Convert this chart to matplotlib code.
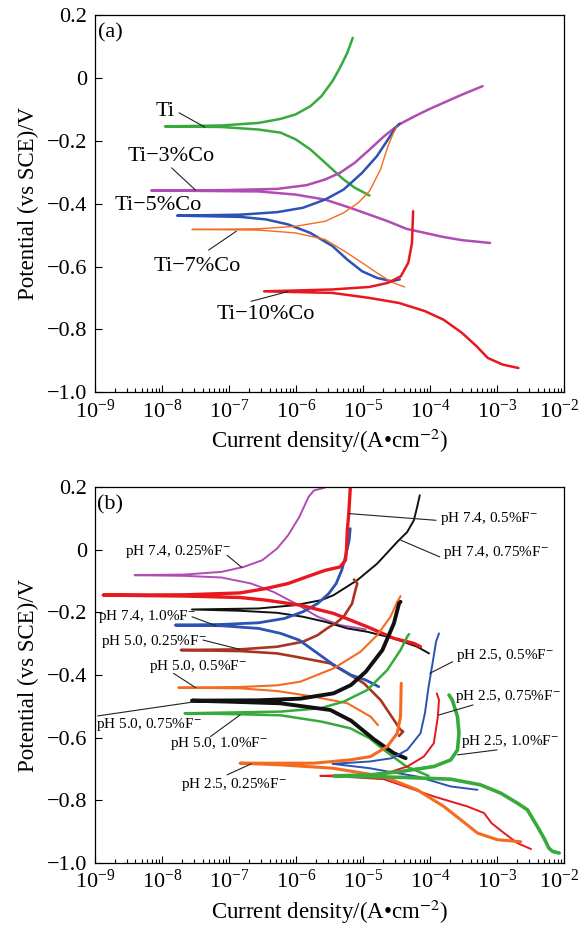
import matplotlib
matplotlib.use('Agg')
import matplotlib.pyplot as plt
import numpy as np
from matplotlib.ticker import LogLocator, FixedLocator, FixedFormatter, NullFormatter, NullLocator
from matplotlib.transforms import ScaledTranslation

plt.rcParams['font.family'] = ['Liberation Serif', 'DejaVu Serif']
plt.rcParams['mathtext.fontset'] = 'stix'

# ---- (a) alloys: log10(current density), potential (V vs SCE); cathodic end -> Ecorr -> anodic end
ti_logi = [-4.907, -5.128, -5.293, -5.459, -5.624, -5.79, -6.01, -6.231, -6.562, -7.114, -7.958,
           -7.114, -6.562, -6.231, -6.01, -5.79, -5.624, -5.459, -5.349, -5.238, -5.156]
ti_E = [-0.374, -0.349, -0.323, -0.291, -0.259, -0.227, -0.195, -0.174, -0.164, -0.156, -0.154,
        -0.151, -0.143, -0.130, -0.116, -0.090, -0.058, -0.010, 0.032, 0.080, 0.128]

co3_logi = [-3.109, -3.528, -3.804, -4.080, -4.356, -4.632, -4.907, -5.183, -5.569, -6.010, -6.562, -8.162,
            -7.114, -6.286, -5.845, -5.569, -5.349, -5.128, -4.907, -4.687, -4.466, -4.245, -4.025, -3.804,
            -3.528, -3.220]
co3_E = [-0.525, -0.516, -0.506, -0.493, -0.480, -0.456, -0.435, -0.414, -0.387, -0.371, -0.361, -0.358,
         -0.357, -0.353, -0.341, -0.323, -0.302, -0.270, -0.228, -0.185, -0.148, -0.123, -0.100, -0.079,
         -0.053, -0.026]

co5_logi = [-4.455, -4.576, -4.797, -5.018, -5.238, -5.459, -5.790, -6.121, -6.452, -6.838, -7.776,
            -6.838, -6.286, -5.900, -5.569, -5.293, -5.018, -4.797, -4.632, -4.521, -4.455]
co5_E = [-0.641, -0.647, -0.636, -0.615, -0.578, -0.535, -0.493, -0.466, -0.450, -0.442, -0.438,
         -0.435, -0.427, -0.413, -0.387, -0.355, -0.302, -0.249, -0.196, -0.159, -0.145]

co7_logi = [-4.383, -4.576, -4.797, -5.018, -5.238, -5.569, -6.010, -6.562, -7.555,
            -6.562, -6.010, -5.569, -5.293, -5.073, -4.907, -4.742, -4.632, -4.549, -4.494]
co7_E = [-0.665, -0.650, -0.620, -0.588, -0.557, -0.514, -0.493, -0.484, -0.482,
         -0.480, -0.472, -0.456, -0.429, -0.397, -0.360, -0.291, -0.217, -0.175, -0.153]

co10_logi = [-2.685, -2.922, -3.142, -3.308, -3.528, -3.804, -4.080, -4.466, -4.907, -5.459, -6.479,
             -5.459, -4.907, -4.632, -4.439, -4.328, -4.273, -4.256]
co10_E = [-0.923, -0.912, -0.891, -0.854, -0.811, -0.769, -0.742, -0.716, -0.700, -0.684, -0.679,
          -0.673, -0.665, -0.652, -0.631, -0.588, -0.525, -0.424]

# ---- (b) Ti in solutions of different pH / fluoride content
p74_025_logi = [-4.962, -5.348, -5.679, -6.010, -6.342, -6.672, -7.114, -7.665, -8.410,
                -7.665, -7.114, -6.783, -6.507, -6.286, -6.121, -5.955, -5.817, -5.735, -5.569]
p74_025_E = [-0.2545, -0.2407, -0.214, -0.1717, -0.1345, -0.108, -0.0888, -0.0835, -0.0814,
             -0.0793, -0.0708, -0.0549, -0.0336, 0.0035, 0.046, 0.104, 0.168, 0.189, 0.198]

p74_05_logi = [-4.146, -4.245, -4.543, -4.940, -5.442, -5.939, -6.452, -6.838, -7.665, -8.879,
               -7.665, -6.838, -6.452, -6.121, -5.845, -5.569, -5.343, -5.266, -5.250, -5.238, -5.216, -5.194]
p74_05_E = [-0.3097, -0.299, -0.283, -0.246, -0.2035, -0.177, -0.161, -0.1526, -0.148, -0.145,
            -0.144, -0.138, -0.124, -0.108, -0.0867, -0.066, -0.0549, -0.0336, 0.0, 0.0619, 0.115, 0.1947]

p74_075_logi = [-4.019, -4.196, -4.543, -4.940, -5.238, -5.569, -5.900, -6.286, -6.838, -7.555,
                -6.562, -6.010, -5.624, -5.442, -5.089, -4.791, -4.493, -4.344, -4.245, -4.196, -4.157]
p74_075_E = [-0.331, -0.3097, -0.283, -0.262, -0.2513, -0.230, -0.214, -0.2014, -0.195, -0.1908,
             -0.1876, -0.177, -0.161, -0.145, -0.0973, -0.0442, 0.0248, 0.0566, 0.0938, 0.1363, 0.1735]

p74_10_logi = [-4.769, -4.962, -5.183, -5.459, -5.735, -5.955, -6.231, -6.562, -7.114, -7.803,
               -7.114, -6.562, -6.176, -5.900, -5.679, -5.514, -5.404, -5.321, -5.266, -5.210, -5.194]
p74_10_E = [-0.4372, -0.416, -0.400, -0.365, -0.3225, -0.2885, -0.2672, -0.2513, -0.2428, -0.2407,
            -0.2386, -0.2333, -0.2195, -0.1982, -0.1717, -0.1398, -0.108, -0.0655, -0.023, 0.030, 0.0673]

p50_025_logi = [-4.466, -4.405, -4.444, -4.742, -4.990, -5.194, -5.492, -6.010, -6.286, -6.838, -7.720,
                -6.838, -6.286, -5.900, -5.679, -5.541, -5.404, -5.293, -5.166, -5.117, -5.089, -5.139]
p50_025_E = [-0.5943, -0.5805, -0.575, -0.4796, -0.4265, -0.400, -0.3628, -0.3416, -0.331, -0.3235, -0.3203,
             -0.3182, -0.3097, -0.2938, -0.2726, -0.2513, -0.2333, -0.2141, -0.1717, -0.1292, -0.108, -0.0952]

p50_05_logi = [-4.78, -4.891, -5.238, -5.740, -6.286, -6.838, -7.759,
               -6.838, -6.286, -5.939, -5.442, -5.040, -4.791, -4.593, -4.493, -4.444]
p50_05_E = [-0.56, -0.5327, -0.490, -0.469, -0.451, -0.4425, -0.4403,
            -0.4382, -0.4329, -0.4212, -0.3788, -0.3256, -0.2726, -0.2141, -0.1664, -0.1483]

p50_075_logi = [-4.367, -4.543, -4.841, -5.183, -5.492, -6.236, -7.003, -7.555,
                -6.562, -5.939, -5.442, -5.183, -4.962, -4.714, -4.543, -4.466, -4.444]
p50_075_E = [-0.6655, -0.6496, -0.605, -0.5455, -0.5115, -0.4903, -0.485, -0.4818,
             -0.4807, -0.4754, -0.4584, -0.4319, -0.3894, -0.3203, -0.2354, -0.1717, -0.1664]

p50_10_logi = [-4.025, -4.356, -4.692, -4.907, -5.194, -5.624, -6.236, -6.838, -7.665,
               -6.236, -5.641, -5.293, -4.940, -4.642, -4.444, -4.344, -4.317]
p50_10_E = [-0.7218, -0.692, -0.639, -0.6018, -0.570, -0.5487, -0.5285, -0.5253, -0.5221,
            -0.5168, -0.5062, -0.485, -0.4478, -0.3841, -0.3203, -0.2779, -0.2694]

p25_025_logi = [-2.651, -2.999, -3.296, -3.545, -3.798, -4.196, -4.692, -5.459, -6.231, -6.838,
                -5.740, -5.194, -4.891, -4.642, -4.493, -4.444, -4.433]
p25_025_E = [-0.932, -0.9257, -0.9044, -0.862, -0.8195, -0.7664, -0.7239, -0.6973, -0.6867, -0.6814,
             -0.6814, -0.6708, -0.6602, -0.6283, -0.5858, -0.5327, -0.4265]

p25_05_logi = [-3.296, -3.694, -4.196, -4.632, -4.907, -5.459,
               -4.907, -4.576, -4.344, -4.146, -4.080, -4.025, -3.958, -3.914, -3.870]
p25_05_E = [-0.7664, -0.7557, -0.7239, -0.708, -0.6973, -0.6835,
            -0.6761, -0.6655, -0.639, -0.5858, -0.5221, -0.4372, -0.3522, -0.2938, -0.2673]

p25_075_logi = [-2.497, -2.701, -2.899, -3.087, -3.197, -3.445, -3.947, -4.692, -5.183, -5.641,
                -4.907, -4.576, -4.344, -4.096, -3.947, -3.887, -3.870, -3.903]
p25_075_E = [-0.9554, -0.9363, -0.9044, -0.8726, -0.8407, -0.8195, -0.7876, -0.7324, -0.726, -0.7218,
             -0.7186, -0.708, -0.692, -0.6602, -0.6177, -0.5327, -0.4796, -0.4584]

p25_10_logi = [-2.077, -2.177, -2.232, -2.304, -2.403, -2.552, -2.701, -2.949, -3.252, -3.694, -4.356, -4.907, -5.431,
               -4.907, -4.444, -3.947, -3.694, -3.594, -3.572, -3.594, -3.672, -3.721]
p25_10_E = [-0.9681, -0.9628, -0.9522, -0.9203, -0.8832, -0.830, -0.8088, -0.777, -0.7504, -0.7324, -0.7271, -0.724, -0.7218,
            -0.719, -0.708, -0.692, -0.6708, -0.639, -0.5858, -0.5327, -0.4796, -0.4637]

GREEN = '#36ab3c'
PURPLE = '#b04cb4'
BLUE = '#2c52b5'
ORANGE = '#f46b20'
RED = '#e8181e'
BLACK = '#111111'
BROWN = '#a8351f'

fig = plt.figure(figsize=(5.8, 9.25), dpi=100)
ax1 = fig.add_axes([0.164, 0.576, 0.809, 0.4076])
ax2 = fig.add_axes([0.164, 0.067, 0.809, 0.4065])


def curve(ax, logi, E, color, lw):
    ax.plot(10 ** np.array(logi), E, color=color, lw=lw, solid_capstyle='round', solid_joinstyle='round')


def note(ax, text, pos, size, ha='center', line=None):
    ax.text(pos[0], pos[1], text, transform=ax.transAxes, fontsize=size, ha=ha, va='center')
    if line is not None:
        ax.annotate('', xy=line[1], xytext=line[0], xycoords='axes fraction',
                    textcoords='axes fraction',
                    arrowprops=dict(arrowstyle='-', color='#222222', lw=0.8, shrinkA=0, shrinkB=0))


def style(ax):
    ax.set_xscale('log')
    ax.set_xlim(1e-9, 1e-2)
    ax.set_ylim(-1.0, 0.2)
    ax.xaxis.set_major_locator(LogLocator(base=10, numticks=20))
    ax.xaxis.set_minor_locator(LogLocator(base=10, subs=np.arange(2, 10), numticks=20))
    ax.xaxis.set_minor_formatter(NullFormatter())
    ax.yaxis.set_major_locator(FixedLocator([-1.0, -0.8, -0.6, -0.4, -0.2, 0.0, 0.2]))
    ax.yaxis.set_major_formatter(FixedFormatter(['\u22121.0', '\u22120.8', '\u22120.6', '\u22120.4',
                                                 '\u22120.2', '0', '0.2']))
    ax.yaxis.set_minor_locator(NullLocator())
    ax.tick_params(which='both', direction='in', top=False, right=False, labelsize=16)
    ax.tick_params(axis='x', which='both', pad=5)
    ax.tick_params(axis='y', which='both', pad=6)
    ax.tick_params(which='major', length=5, width=0.8)
    ax.tick_params(which='minor', length=3, width=0.8)
    for s in ax.spines.values():
        s.set_linewidth(0.9)
    ax.set_xlabel('Current density/(A\u2022cm$^{-2}$)', fontsize=16.5, labelpad=3)
    ax.set_ylabel('Potential (vs SCE)/V', fontsize=16.5, labelpad=5)


# ---- panel (a)
curve(ax1, ti_logi, ti_E, GREEN, 1.8)
curve(ax1, co3_logi, co3_E, PURPLE, 1.8)
curve(ax1, co5_logi, co5_E, BLUE, 1.8)
curve(ax1, co7_logi, co7_E, ORANGE, 1.0)
curve(ax1, co10_logi, co10_E, RED, 1.8)
style(ax1)
note(ax1, '(a)', (0.032, 0.952), 16)
note(ax1, 'Ti', (0.149, 0.745), 16, line=((0.179, 0.741), (0.234, 0.703)))
note(ax1, 'Ti\u22123%Co', (0.163, 0.626), 16, line=((0.163, 0.595), (0.214, 0.536)))
note(ax1, 'Ti\u22125%Co', (0.135, 0.496), 16)
note(ax1, 'Ti\u22127%Co', (0.217, 0.334), 16, line=((0.242, 0.377), (0.301, 0.427)))
note(ax1, 'Ti\u221210%Co', (0.364, 0.206), 16, line=((0.3325, 0.241), (0.411, 0.267)))

# ---- panel (b)
curve(ax2, p74_025_logi, p74_025_E, PURPLE, 1.4)
curve(ax2, p74_075_logi, p74_075_E, BLACK, 1.4)
curve(ax2, p50_025_logi, p50_025_E, BROWN, 1.9)
curve(ax2, p74_10_logi, p74_10_E, BLUE, 2.0)
curve(ax2, p74_05_logi, p74_05_E, RED, 2.4)
curve(ax2, p50_05_logi, p50_05_E, ORANGE, 1.5)
curve(ax2, p50_10_logi, p50_10_E, GREEN, 1.8)
curve(ax2, p50_075_logi, p50_075_E, BLACK, 2.8)
curve(ax2, p25_05_logi, p25_05_E, BLUE, 1.4)
curve(ax2, p25_075_logi, p25_075_E, RED, 1.4)
curve(ax2, p25_025_logi, p25_025_E, ORANGE, 2.2)
curve(ax2, p25_10_logi, p25_10_E, GREEN, 2.6)
style(ax2)
fs = 11
note(ax2, '(b)', (0.032, 0.952), 16)
note(ax2, 'pH 7.4, 0.25%F$^{-}$', (0.0646, 0.8274), fs, ha='left', line=((0.2813, 0.8186), (0.3128, 0.7858)))
note(ax2, 'pH 7.4, 0.5%F$^{-}$', (0.7344, 0.9159), fs, ha='left', line=((0.7266, 0.9115), (0.5414, 0.9292)))
note(ax2, 'pH 7.4, 0.75%F$^{-}$', (0.7423, 0.8248), fs, ha='left', line=((0.7344, 0.8142), (0.6517, 0.8584)))
note(ax2, 'pH 7.4, 1.0%F$^{-}$', (0.0055, 0.6566), fs, ha='left', line=((0.2065, 0.6549), (0.2577, 0.631)))
note(ax2, 'pH 5.0, 0.25%F$^{-}$', (0.0134, 0.5885), fs, ha='left', line=((0.2301, 0.5929), (0.3089, 0.5681)))
note(ax2, 'pH 5.0, 0.5%F$^{-}$', (0.1158, 0.5221), fs, ha='left', line=((0.1671, 0.5044), (0.2143, 0.4664)))
note(ax2, 'pH 5.0, 0.75%F$^{-}$', (0.0016, 0.3673), fs, ha='left', line=((0.0055, 0.3912), (0.2143, 0.4292)))
note(ax2, 'pH 5.0, 1.0%F$^{-}$', (0.1592, 0.3186), fs, ha='left', line=((0.2459, 0.3363), (0.3089, 0.3938)))
note(ax2, 'pH 2.5, 0.25%F$^{-}$', (0.1828, 0.208), fs, ha='left', line=((0.2813, 0.2345), (0.3325, 0.2637)))
note(ax2, 'pH 2.5, 0.5%F$^{-}$', (0.7699, 0.5531), fs, ha='left', line=((0.762, 0.5354), (0.7132, 0.5044)))
note(ax2, 'pH 2.5, 0.75%F$^{-}$', (0.7675, 0.4442), fs, ha='left', line=((0.8054, 0.4204), (0.7329, 0.3938)))
note(ax2, 'pH 2.5, 1.0%F$^{-}$', (0.7801, 0.323), fs, ha='left', line=((0.8566, 0.3009), (0.7723, 0.2876)))

# keep the 10^-2 label inside the canvas
fig.canvas.draw()
for ax in (ax1, ax2):
    for tick in ax.xaxis.get_major_ticks():
        if abs(np.log10(tick.get_loc()) + 2) < 1e-6:
            lab = tick.label1
            lab.set_transform(lab.get_transform() + ScaledTranslation(-0.05, 0, fig.dpi_scale_trans))

fig.savefig('out.png', dpi=100)
